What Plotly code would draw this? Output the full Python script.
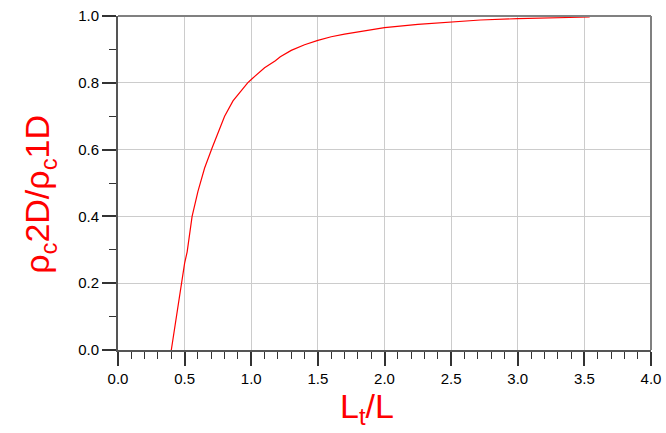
import plotly.graph_objects as go

# Data
lt_over_l = [0.40, 0.45, 0.476, 0.50, 0.519, 0.556, 0.60, 0.624, 0.65, 0.706,
             0.75, 0.80, 0.863, 0.90, 0.973, 1.00, 1.10, 1.181, 1.218, 1.30,
             1.40, 1.50, 1.60, 1.70, 1.80, 1.90, 2.00, 2.25, 2.50, 2.72,
             3.00, 3.25, 3.54]
rho_ratio = [0.0, 0.13, 0.20, 0.26, 0.294, 0.40, 0.475, 0.509, 0.545, 0.605,
             0.65, 0.70, 0.746, 0.765, 0.80, 0.81, 0.845, 0.866, 0.878, 0.897,
             0.914, 0.927, 0.938, 0.946, 0.953, 0.959, 0.965, 0.975, 0.982, 0.988,
             0.992, 0.995, 0.997]

x_ticks = [0.0, 0.5, 1.0, 1.5, 2.0, 2.5, 3.0, 3.5, 4.0]
y_ticks = [0.0, 0.2, 0.4, 0.6, 0.8, 1.0]

x_title = "L<sub>t</sub>/L"
y_title = "ρ<sub>c</sub>2D/ρ<sub>c</sub>1D"

FONT = "Arial, Liberation Sans, sans-serif"

fig = go.Figure()
fig.add_trace(go.Scatter(x=lt_over_l, y=rho_ratio, mode="lines",
                         line=dict(color="#ff0000", width=1.2),
                         showlegend=False, hoverinfo="skip"))

fig.update_layout(
    width=666, height=433,
    margin=dict(l=118, r=15, t=16, b=83, autoexpand=False),
    paper_bgcolor="white", plot_bgcolor="white",
    font=dict(family=FONT, size=15, color="black"),
)

axis_common = dict(
    tickformat=".1f",
    showgrid=True, gridcolor="#cccccc", gridwidth=1,
    showline=True, linecolor="#555555", linewidth=2, mirror=False,
    ticks="outside", ticklen=14, tickwidth=1.5, tickcolor="#333333",
    minor=dict(dtick=0.1, ticks="outside", ticklen=7, tickwidth=1.2,
               tickcolor="#333333", showgrid=False),
    zeroline=False, automargin=False,
    tickfont=dict(family=FONT, size=15, color="black"),
)
fig.update_xaxes(range=[0, 4], tickvals=x_ticks, **axis_common)
fig.update_yaxes(range=[0, 1], tickvals=y_ticks, **axis_common)

# axis titles
fig.add_annotation(text=x_title, xref="paper", yref="paper", x=0.468, y=-0.175,
                   xanchor="center", yanchor="middle", showarrow=False,
                   font=dict(family=FONT, size=34, color="#ff0000"))
fig.add_annotation(text=y_title, xref="paper", yref="paper", x=-0.146, y=0.465,
                   xanchor="center", yanchor="middle", showarrow=False, textangle=-90,
                   font=dict(family=FONT, size=34, color="#ff0000"))

# top and right frame
fig.add_shape(type="line", xref="paper", yref="paper", x0=0, x1=1, y0=1, y1=1,
              line=dict(color="#808080", width=2))
fig.add_shape(type="line", xref="paper", yref="paper", x0=1, x1=1, y0=0, y1=1,
              line=dict(color="#808080", width=2))

fig.write_html("out.html", config={"displayModeBar": False},
               post_script="document.body.style.margin='0';document.body.style.overflow='hidden';")
